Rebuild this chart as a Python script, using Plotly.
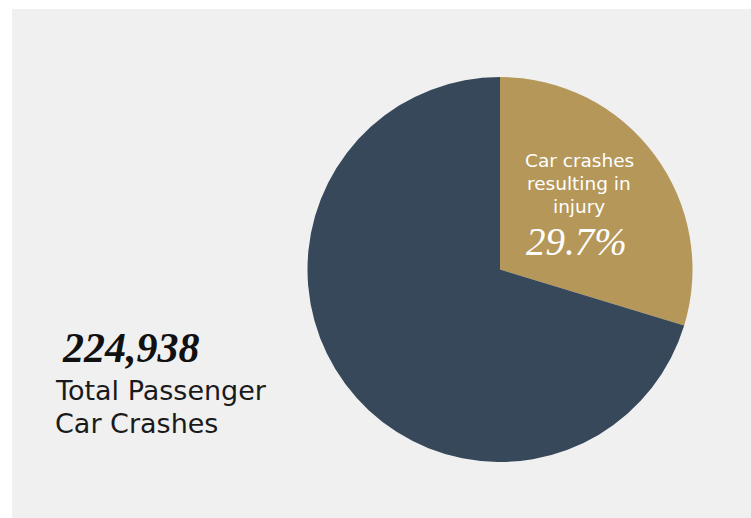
import plotly.graph_objects as go

categories = ["Car crashes resulting in injury", "Other crashes"]
shares = [29.7, 70.3]
colors = ["#b5975a", "#36485a"]
total_crashes = "224,938"
total_label = ["Total Passenger", "Car Crashes"]
slice_label = ["Car crashes", "resulting in", "injury"]

W, H = 751, 518
cx, cy, r = 500, 269.5, 192.5

fig = go.Figure()
fig.add_trace(go.Pie(
    labels=categories, values=shares, sort=False, direction="clockwise",
    rotation=0, marker=dict(colors=colors, line=dict(width=0)),
    textinfo="none", hoverinfo="label+percent", showlegend=False,
    domain=dict(x=[(cx - r) / W, (cx + r) / W], y=[1 - (cy + r) / H, 1 - (cy - r) / H]),
))

fig.add_shape(type="rect", xref="paper", yref="paper", x0=12 / W, x1=1, y0=0, y1=1 - 9 / H,
              fillcolor="#f0f0f0", line=dict(width=0), layer="below")

def px(x):
    return x / W

def py(y):
    return 1 - y / H

def note(text, x, y, font, xanchor="center"):
    fig.add_annotation(x=px(x), y=py(y), xref="paper", yref="paper",
                       xanchor=xanchor, yanchor="middle", text=text,
                       showarrow=False, font=font, align="left")

for line, yy in zip(slice_label, [160, 183, 206]):
    note(line, 579, yy, dict(family="DejaVu Sans", size=18.5, color="white"))
note(f"<i>{shares[0]}%</i>", 576, 241, dict(family="Liberation Serif", size=39, color="white"))
note(f"<b><i>{total_crashes}</i></b>", 60, 348,
     dict(family="Liberation Serif", size=42, color="#111111"), xanchor="left")
for line, yy in zip(total_label, [390, 423]):
    note(line, 53, yy, dict(family="DejaVu Sans", size=27, color="#1a1a1a"), xanchor="left")

fig.update_layout(width=W, height=H, margin=dict(l=0, r=0, t=0, b=0),
                  paper_bgcolor="white", plot_bgcolor="white")
fig.write_html("out.html", config={"displayModeBar": False},
               post_script="document.body.style.margin='0';")
